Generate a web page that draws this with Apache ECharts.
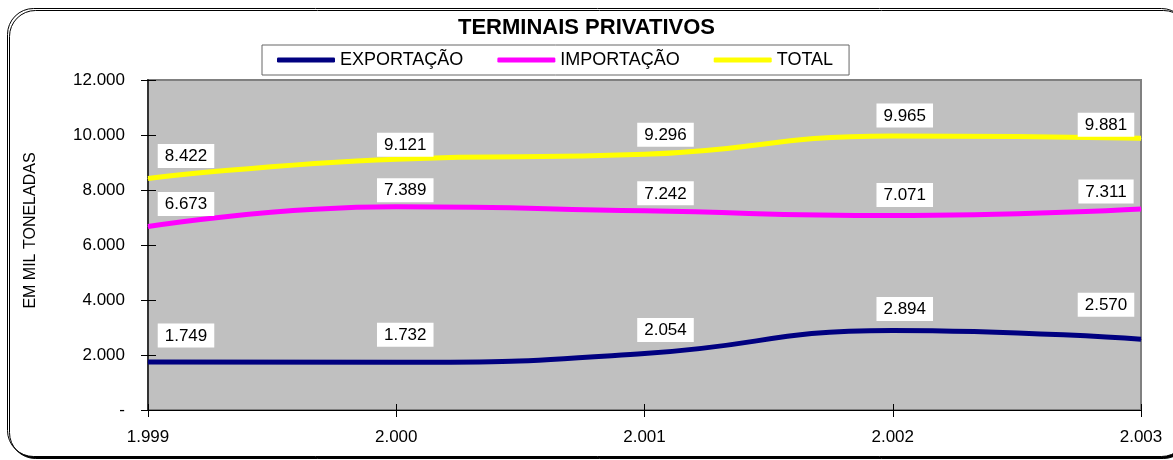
<!DOCTYPE html>
<html>
<head>
<meta charset="utf-8">
<script src="https://cdn.jsdelivr.net/npm/echarts@6/dist/echarts.min.js"></script>
<style>
  html, body { margin: 0; padding: 0; background: #fff; }
  #chart { width: 1173px; height: 460px; }
</style>
</head>
<body>
<div id="chart"></div>
<script>
// dados do gráfico
const anos = ['1.999', '2.000', '2.001', '2.002', '2.003'];
const exportacao = [1749, 1732, 2054, 2894, 2570];
const importacao = [6673, 7389, 7242, 7071, 7311];
const total = [8422, 9121, 9296, 9965, 9881];
const yTicks = [0, 2000, 4000, 6000, 8000, 10000, 12000];

const FONT = '"Liberation Sans", Arial, sans-serif';

// formato 1.234 e "-" para zero
const fmt = v => (v === 0 ? '-' : String(v).replace(/\B(?=(\d{3})+(?!\d))/g, '.'));

// deslocamento dos rótulos (como no Excel)
const shiftX = [38, 9, 21, 12, -35];
const gapTotal = [10, 2, 7, 8, 1];
const gapImport = [10, 4, 5, 8, 5];
const gapExport = [14, 15, 11, 9, 22];

const withLabels = (values, gaps) =>
  values.map((v, i) => ({ value: v, label: { offset: [shiftX[i], -gaps[i]] } }));

const lineSeries = (name, values, gaps, color) => ({
  name: name,
  type: 'line',
  smooth: true,
  symbol: 'circle',
  symbolSize: 1,
  lineStyle: { color: color, width: 5 },
  itemStyle: { color: color },
  label: {
    show: true,
    position: 'top',
    distance: 0,
    formatter: p => fmt(p.value),
    color: '#000',
    fontFamily: FONT,
    fontSize: 17,
    backgroundColor: '#fff',
    padding: [4, 7, 3, 7],
  },
  data: withLabels(values, gaps),
});

const yMin = yTicks[0];
const yMax = yTicks[yTicks.length - 1];
const yStep = yTicks[1] - yTicks[0];

const option = {
  animation: false,
  graphic: [
    {
      type: 'rect',
      z: -10,
      shape: { x: 7.5, y: 8.5, width: 1180, height: 448, r: 26 },
      style: {
        fill: '#fff',
        stroke: '#000',
        lineWidth: 1,
        shadowColor: '#000',
        shadowOffsetX: 2,
        shadowOffsetY: 2,
        shadowBlur: 0,
      },
    },
  ],
  title: {
    text: 'TERMINAIS PRIVATIVOS',
    left: 'center',
    top: 17,
    padding: 0,
    textStyle: { fontFamily: FONT, fontSize: 22, fontWeight: 'bold', color: '#000' },
  },
  legend: {
    left: 262,
    top: 45,
    padding: [6, 16, 6, 15],
    itemGap: 34,
    itemWidth: 58,
    itemHeight: 5,
    icon: 'roundRect',
    borderColor: '#666',
    borderWidth: 1,
    backgroundColor: '#fff',
    textStyle: { fontFamily: FONT, fontSize: 18, color: '#000' },
    data: ['EXPORTAÇÃO', 'IMPORTAÇÃO', 'TOTAL'],
  },
  grid: {
    left: 148,
    right: 32,
    top: 80,
    bottom: 50,
    show: true,
    backgroundColor: '#c0c0c0',
    borderColor: '#808080',
    borderWidth: 2,
  },
  xAxis: [
    {
      type: 'category',
      data: anos,
      boundaryGap: false,
      axisLine: { lineStyle: { color: '#000', width: 1 } },
      axisTick: { length: 7, lineStyle: { color: '#000' } },
      axisLabel: { margin: 19, color: '#000', fontFamily: FONT, fontSize: 17 },
      splitLine: { show: false },
    },
    {
      type: 'category',
      data: anos,
      boundaryGap: false,
      position: 'bottom',
      axisLine: { show: false },
      axisTick: { inside: true, length: 6, lineStyle: { color: '#000' } },
      axisLabel: { show: false },
      splitLine: { show: false },
    },
  ],
  yAxis: [
    {
      type: 'value',
      min: yMin,
      max: yMax,
      interval: yStep,
      name: 'EM MIL TONELADAS',
      nameLocation: 'middle',
      nameGap: 109,
      nameRotate: 90,
      nameTextStyle: { fontFamily: FONT, fontSize: 16, color: '#000', padding: [0, 0, 0, 29] },
      axisLine: { show: true, lineStyle: { color: '#333', width: 2 } },
      axisTick: { show: true, length: 7, lineStyle: { color: '#000' } },
      axisLabel: { margin: 23, color: '#000', fontFamily: FONT, fontSize: 17, formatter: fmt },
      splitLine: { show: false },
    },
    {
      type: 'value',
      min: yMin,
      max: yMax,
      interval: yStep,
      position: 'left',
      axisLine: { show: false },
      axisTick: { show: true, inside: true, length: 8, lineStyle: { color: '#000' } },
      axisLabel: { show: false },
      splitLine: { show: false },
    },
  ],
  series: [
    lineSeries('EXPORTAÇÃO', exportacao, gapExport, '#000080'),
    lineSeries('IMPORTAÇÃO', importacao, gapImport, '#ff00ff'),
    lineSeries('TOTAL', total, gapTotal, '#ffff00'),
  ],
};

const chart = echarts.init(document.getElementById('chart'), null, { renderer: 'canvas' });
chart.setOption(option);
</script>
</body>
</html>
